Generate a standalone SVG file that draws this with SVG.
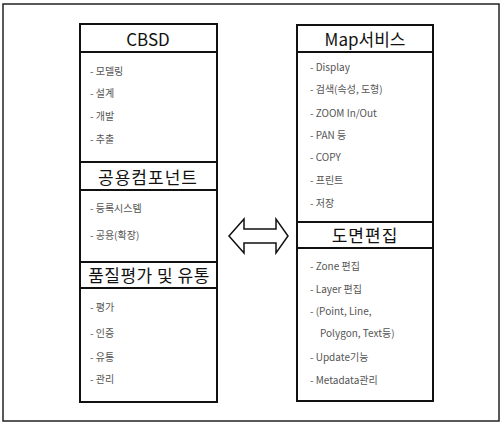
<svg xmlns="http://www.w3.org/2000/svg" width="502" height="425" viewBox="0 0 502 425">
<style>
.box{fill:#fff;stroke:#111;stroke-width:2}
.ln{stroke:#111;stroke-width:2}
.hd{font-family:"Noto Sans CJK KR","Liberation Sans",sans-serif;font-size:17px;font-weight:400;fill:#111;text-anchor:middle}
.it{font-family:"Noto Sans CJK KR","Liberation Sans",sans-serif;font-size:10px;fill:#555}
</style>
<rect x="3" y="4" width="496" height="417" fill="#fff" stroke="#222" stroke-width="1.5"/>
<g id="left">
<rect class="box" x="80" y="24" width="137" height="378"/>
<line class="ln" x1="80" y1="52" x2="217" y2="52"/>
<line class="ln" x1="80" y1="162" x2="217" y2="162"/>
<line class="ln" x1="80" y1="190" x2="217" y2="190"/>
<line class="ln" x1="80" y1="262" x2="217" y2="262"/>
<line class="ln" x1="80" y1="288" x2="217" y2="288"/>
<text class="hd" x="148" y="46">CBSD</text>
<text class="it" x="90" y="75">- 모델링</text>
<text class="it" x="90" y="97">- 설계</text>
<text class="it" x="90" y="120">- 개발</text>
<text class="it" x="90" y="143">- 추출</text>
<text class="hd" x="148" y="184" letter-spacing="1">공용컴포넌트</text>
<text class="it" x="90" y="212">- 등록시스템</text>
<text class="it" x="90" y="239">- 공용(확장)</text>
<text class="hd" x="149" y="282" letter-spacing="0.5">품질평가 및 유통</text>
<text class="it" x="90" y="311">- 평가</text>
<text class="it" x="90" y="337">- 인증</text>
<text class="it" x="90" y="361">- 유통</text>
<text class="it" x="90" y="383">- 관리</text>
</g>
<g id="right">
<rect class="box" x="297" y="25" width="136" height="376"/>
<line class="ln" x1="297" y1="52" x2="433" y2="52"/>
<line class="ln" x1="297" y1="222" x2="433" y2="222"/>
<line class="ln" x1="297" y1="248" x2="433" y2="248"/>
<text class="hd" x="365" y="46">Map서비스</text>
<text class="it" x="310" y="71">- Display</text>
<text class="it" x="310" y="93">- 검색(속성, 도형)</text>
<text class="it" x="310" y="117">- ZOOM In/Out</text>
<text class="it" x="310" y="139">- PAN 등</text>
<text class="it" x="310" y="161">- COPY</text>
<text class="it" x="310" y="184">- 프린트</text>
<text class="it" x="310" y="207">- 저장</text>
<text class="hd" x="365" y="242" letter-spacing="1">도면편집</text>
<text class="it" x="310" y="270">- Zone 편집</text>
<text class="it" x="310" y="293">- Layer 편집</text>
<text class="it" x="310" y="315">- (Point, Line,</text>
<text class="it" x="320" y="337">Polygon, Text등)</text>
<text class="it" x="310" y="361">- Update기능</text>
<text class="it" x="310" y="384">- Metadata관리</text>
</g>
<g id="connectors">
<path d="M229,236 L244,219 L244,229 L276,229 L276,219 L288,236 L276,253 L276,243 L244,243 L244,253 Z" fill="#fff" stroke="#111" stroke-width="1.5" stroke-linejoin="miter"/>
</g>
</svg>
